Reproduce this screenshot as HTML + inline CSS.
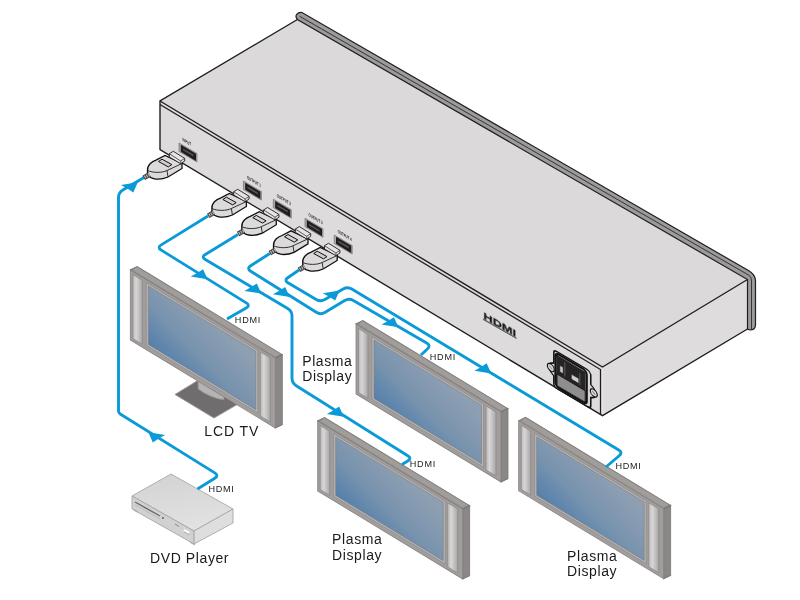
<!DOCTYPE html>
<html><head><meta charset="utf-8"><style>
html,body{margin:0;padding:0;background:#fff;width:800px;height:600px;overflow:hidden}
svg{display:block}
</style></head><body>
<svg width="800" height="600" viewBox="0 0 800 600">
<defs>
<linearGradient id="spk" x1="0" y1="0" x2="1" y2="0"><stop offset="0" stop-color="#b9b7b7"/><stop offset="0.35" stop-color="#d8d6d6"/><stop offset="1" stop-color="#a9a7a7"/></linearGradient>
<linearGradient id="scr" x1="0" y1="1" x2="0.75" y2="0"><stop offset="0" stop-color="#5480ac"/><stop offset="0.45" stop-color="#7893ae"/><stop offset="1" stop-color="#8e9fb2"/></linearGradient>
<linearGradient id="dvdtop" x1="0" y1="0" x2="0.3" y2="1"><stop offset="0" stop-color="#d3d2d2"/><stop offset="1" stop-color="#e2e1e1"/></linearGradient>
</defs>
<rect width="800" height="600" fill="#fff"/>
<polygon points="297.4,19.5 160,101 602.5,367 747.5,279.5" fill="#dbd9da"/>
<polygon points="160,101 602.5,367 602.5,415.7 160,149.5" fill="#dddbdc"/>
<polygon points="602.5,367 747.5,279.5 747.5,329 602.5,415.7" fill="#dedcdd"/>
<path d="M 297.4,19.5 L 160,101 L 160,149.5 L 602.5,415.7 L 747.5,329" fill="none" stroke="#1e1e1e" stroke-width="1.4"/>
<path d="M 160,101 L 602.5,367 L 747.5,279.5" fill="none" stroke="#1e1e1e" stroke-width="1.35"/>
<path d="M 160,104.5 L 600.5,369.5 L 600.5,415" fill="none" stroke="#1e1e1e" stroke-width="1.25"/>
<path d="M 297.4,19.5 C 294,15.5 297.5,12 302,12.5 L 748,270.3 Q 755.5,274.5 755.5,281 L 755.5,325 Q 755.5,330 750,330 L 747.5,329 L 747.5,279.5 Z" fill="#9c9a9a" stroke="#1e1e1e" stroke-width="1.2"/>
<path d="M 299.5,16.2 L 749,275.3 Q 751.5,277 751.5,281 L 751.5,329" fill="none" stroke="#2a2a2a" stroke-width="0.9"/>
<g transform="matrix(1,0.57,0,1,483,311)" style="will-change:transform"><text x="0.5" y="6.8" font-family="Liberation Sans, sans-serif" font-weight="bold" font-size="9.5" textLength="32.5" lengthAdjust="spacingAndGlyphs" fill="#1a1a1a" stroke="#1a1a1a" stroke-width="0.25">HDMI</text><rect x="0" y="7.6" width="33.5" height="1.1" fill="#222"/></g>
<g transform="matrix(1,0.59,0,1,553.8,349.8)"><path d="M 0,3 Q 0,0 3,0 L 33,0 Q 36,0 37,3 L 37,13 L 40,15 Q 45,19.5 40,24 L 37,26 L 37,34 Q 37,37 34,37 L 3,37 Q 0,37 0,34 L 0,26 L -3,24 Q -8,19.5 -3,15 L 0,13 Z" fill="#d6d4d4" stroke="#111" stroke-width="1.5"/><rect x="1.8" y="1.8" width="31" height="33.5" rx="3.5" fill="#d0cece" stroke="#111" stroke-width="2.4"/><rect x="3.2" y="3.4" width="28.2" height="19" fill="#262424"/><rect x="3.2" y="22.4" width="28.2" height="11.5" fill="#8f8d8d" stroke="#111" stroke-width="0.9"/><rect x="6" y="12" width="3.4" height="6.5" fill="#c9c7c7" stroke="#111" stroke-width="0.5"/><rect x="17.5" y="14" width="7.5" height="5" fill="#cfcdcd" stroke="#111" stroke-width="0.5"/><path d="M 11,6 L 11,20 M 26,8 L 26,20" stroke="#555" stroke-width="1.2"/><circle cx="-3" cy="19.5" r="3.5" fill="#d8d6d6" stroke="#111" stroke-width="1.1"/><circle cx="40" cy="19.5" r="3.5" fill="#d8d6d6" stroke="#111" stroke-width="1.1"/><path d="M -4.5,18.5 L -1.5,20.5 M 38.5,18.5 L 41.5,20.5" stroke="#666" stroke-width="0.8"/></g>
<g style="will-change:transform"><g transform="matrix(1,0.6,0,1,182.5,140.8)"><text x="0" y="0" font-family="Liberation Sans, sans-serif" font-size="4.6" font-weight="bold" textLength="8.5" lengthAdjust="spacingAndGlyphs" fill="#2a2a2a">INPUT</text></g>
<g transform="matrix(1,0.6,0,1,246.9,178.8)"><text x="0" y="0" font-family="Liberation Sans, sans-serif" font-size="4.6" font-weight="bold" textLength="14" lengthAdjust="spacingAndGlyphs" fill="#2a2a2a">OUTPUT 1</text></g>
<g transform="matrix(1,0.6,0,1,276.8,197.0)"><text x="0" y="0" font-family="Liberation Sans, sans-serif" font-size="4.6" font-weight="bold" textLength="14" lengthAdjust="spacingAndGlyphs" fill="#2a2a2a">OUTPUT 2</text></g>
<g transform="matrix(1,0.6,0,1,308.5,216.10000000000002)"><text x="0" y="0" font-family="Liberation Sans, sans-serif" font-size="4.6" font-weight="bold" textLength="14" lengthAdjust="spacingAndGlyphs" fill="#2a2a2a">OUTPUT 3</text></g>
<g transform="matrix(1,0.6,0,1,337.7,232.8)"><text x="0" y="0" font-family="Liberation Sans, sans-serif" font-size="4.6" font-weight="bold" textLength="14" lengthAdjust="spacingAndGlyphs" fill="#2a2a2a">OUTPUT 4</text></g></g>
<polygon points="175,394.5 197,381 238,404 214,418" fill="#6f6d6d" stroke="#9a9898" stroke-width="1"/><path d="M 198,380 L 198,389 Q 210,398 224,400 L 224,392" fill="#b5b3b3" stroke="#8a8888" stroke-width="0.8"/>
<g transform="matrix(1,0.607,0,1,130.3,270)">
<polygon points="0,0 145,0 152,-7.749 7,-7.749" fill="#93908e" stroke="#7a7776" stroke-width="0.8"/>
<polygon points="3,-1.5 145,-1.5 150,-6.749 6,-6.749" fill="#a09d9b"/>
<polygon points="145,0 152,-7.749 152,62.251 145,70" fill="#8a8786" stroke="#7a7776" stroke-width="0.8"/>
<rect x="0" y="0" width="145" height="70" fill="#a09d9c" stroke="#858281" stroke-width="0.8"/>
<rect x="2.5" y="3" width="9.5" height="64" fill="url(#spk)" stroke="#8a8888" stroke-width="0.6"/>
<rect x="130" y="3" width="10" height="64" fill="url(#spk)" stroke="#8a8888" stroke-width="0.6"/>
<rect x="16" y="3" width="111.5" height="62.5" fill="#b9b7b7" stroke="#8a8888" stroke-width="0.6"/>
<rect x="18" y="5" width="107.5" height="58.5" fill="url(#scr)" stroke="#7a7878" stroke-width="0.5"/>
</g>
<g transform="matrix(1,0.607,0,1,317.7,421)">
<polygon points="0,0 145,0 152,-7.749 7,-7.749" fill="#93908e" stroke="#7a7776" stroke-width="0.8"/>
<polygon points="3,-1.5 145,-1.5 150,-6.749 6,-6.749" fill="#a09d9b"/>
<polygon points="145,0 152,-7.749 152,62.251 145,70" fill="#8a8786" stroke="#7a7776" stroke-width="0.8"/>
<rect x="0" y="0" width="145" height="70" fill="#a09d9c" stroke="#858281" stroke-width="0.8"/>
<rect x="2.5" y="3" width="9.5" height="64" fill="url(#spk)" stroke="#8a8888" stroke-width="0.6"/>
<rect x="130" y="3" width="10" height="64" fill="url(#spk)" stroke="#8a8888" stroke-width="0.6"/>
<rect x="16" y="3" width="111.5" height="62.5" fill="#b9b7b7" stroke="#8a8888" stroke-width="0.6"/>
<rect x="18" y="5" width="107.5" height="58.5" fill="url(#scr)" stroke="#7a7878" stroke-width="0.5"/>
</g>
<g transform="matrix(1,0.607,0,1,356,324)">
<polygon points="0,0 145,0 152,-7.749 7,-7.749" fill="#93908e" stroke="#7a7776" stroke-width="0.8"/>
<polygon points="3,-1.5 145,-1.5 150,-6.749 6,-6.749" fill="#a09d9b"/>
<polygon points="145,0 152,-7.749 152,62.251 145,70" fill="#8a8786" stroke="#7a7776" stroke-width="0.8"/>
<rect x="0" y="0" width="145" height="70" fill="#a09d9c" stroke="#858281" stroke-width="0.8"/>
<rect x="2.5" y="3" width="9.5" height="64" fill="url(#spk)" stroke="#8a8888" stroke-width="0.6"/>
<rect x="130" y="3" width="10" height="64" fill="url(#spk)" stroke="#8a8888" stroke-width="0.6"/>
<rect x="16" y="3" width="111.5" height="62.5" fill="#b9b7b7" stroke="#8a8888" stroke-width="0.6"/>
<rect x="18" y="5" width="107.5" height="58.5" fill="url(#scr)" stroke="#7a7878" stroke-width="0.5"/>
</g>
<g transform="matrix(1,0.607,0,1,518.7,420.8)">
<polygon points="0,0 145,0 152,-7.749 7,-7.749" fill="#93908e" stroke="#7a7776" stroke-width="0.8"/>
<polygon points="3,-1.5 145,-1.5 150,-6.749 6,-6.749" fill="#a09d9b"/>
<polygon points="145,0 152,-7.749 152,62.251 145,70" fill="#8a8786" stroke="#7a7776" stroke-width="0.8"/>
<rect x="0" y="0" width="145" height="70" fill="#a09d9c" stroke="#858281" stroke-width="0.8"/>
<rect x="2.5" y="3" width="9.5" height="64" fill="url(#spk)" stroke="#8a8888" stroke-width="0.6"/>
<rect x="130" y="3" width="10" height="64" fill="url(#spk)" stroke="#8a8888" stroke-width="0.6"/>
<rect x="16" y="3" width="111.5" height="62.5" fill="#b9b7b7" stroke="#8a8888" stroke-width="0.6"/>
<rect x="18" y="5" width="107.5" height="58.5" fill="url(#scr)" stroke="#7a7878" stroke-width="0.5"/>
</g>
<polygon points="132,496 171,474 233,509 194,531" fill="url(#dvdtop)" stroke="#a8a6a6" stroke-width="0.9"/><polygon points="132,496 194,531 194,544 132,509" fill="#d2d1d1" stroke="#a8a6a6" stroke-width="0.9"/><polygon points="194,531 233,509 233,523 194,544" fill="#dfdede" stroke="#a8a6a6" stroke-width="0.9"/><path d="M 194,532 L 194,543.5" stroke="#bdbbbb" stroke-width="1.6"/><path d="M 135,502 L 160,516" stroke="#6a6868" stroke-width="1.4"/><path d="M 135,505 L 160,519" stroke="#b8b6b6" stroke-width="0.8"/><circle cx="163" cy="518" r="0.9" fill="#555"/><path d="M 175,524 L 179,526.5" stroke="#888" stroke-width="1"/><path d="M 184,530 L 189,533" stroke="#fff" stroke-width="2.2"/><path d="M 184,530 L 189,533" stroke="#777" stroke-width="0.5" transform="translate(0,1.6)"/><polygon points="134,509 138,511.5 138,513 134,510.5" fill="#aaa"/><polygon points="190,541.5 195,544.3 195,545.5 190,542.8" fill="#aaa"/>
<path d="M 197.5,489 L 214.77,478.16 Q 219,475.5 214.75,472.86 L 120.20,414.06 Q 118.5,413 118.50,411.00 L 118.50,411.00 Q 118.5,409 118.50,407.00 L 118.50,197.50 Q 118.5,192.5 122.81,189.96 L 144,177.5" fill="none" stroke="#0b9ad8" stroke-width="2.9" stroke-linejoin="round"/>
<path d="M 208,216 L 161.25,244.87 Q 157,247.5 161.25,250.14 L 246.25,302.86 Q 250.5,305.5 246.16,307.99 L 227,319" fill="none" stroke="#0b9ad8" stroke-width="2.9" stroke-linejoin="round"/>
<path d="M 238,234.5 L 205.27,254.40 Q 201,257 205.30,259.55 L 287.70,308.45 Q 292,311 292.00,316.00 L 292.00,378.00 Q 292,383 296.23,385.66 L 407.77,455.84 Q 412,458.5 407.71,461.07 L 402,464.5" fill="none" stroke="#0b9ad8" stroke-width="2.9" stroke-linejoin="round"/>
<path d="M 269.8,253.5 L 250.70,265.79 Q 246.5,268.5 250.73,271.16 L 316.27,312.34 Q 320.5,315 324.79,312.44 L 344.71,300.56 Q 349,298 353.33,300.51 L 426.67,342.99 Q 431,345.5 427.38,348.94 L 421,355" fill="none" stroke="#0b9ad8" stroke-width="2.9" stroke-linejoin="round"/>
<path d="M 299,270 L 287.03,278.29 Q 286,279 286.00,280.25 L 286.00,280.25 Q 286,281.5 287.07,282.14 L 316.20,299.45 Q 320.5,302 324.84,299.51 L 343.16,288.99 Q 347.5,286.5 351.78,289.08 L 618.72,449.92 Q 623,452.5 619.20,455.74 L 606,467" fill="none" stroke="#0b9ad8" stroke-width="2.9" stroke-linejoin="round"/>
<polygon points="148.29,432.32 165.17,435.05 158.74,438.60 152.83,442.45" fill="#0b9ad8"/>
<polygon points="137.81,182.32 133.27,192.45 127.36,188.60 120.93,185.05" fill="#0b9ad8"/>
<polygon points="207.61,279.32 203.07,269.20 197.16,273.05 190.73,276.60" fill="#0b9ad8"/>
<polygon points="261.31,293.62 256.77,283.50 250.86,287.35 244.43,290.90" fill="#0b9ad8"/>
<polygon points="289.71,297.03 285.17,286.90 279.26,290.75 272.83,294.30" fill="#0b9ad8"/>
<polygon points="343.71,416.68 339.17,406.55 333.26,410.40 326.83,413.95" fill="#0b9ad8"/>
<polygon points="339.71,290.47 335.17,300.60 329.26,296.75 322.83,293.20" fill="#0b9ad8"/>
<polygon points="398.46,327.32 393.92,317.20 388.01,321.05 381.58,324.60" fill="#0b9ad8"/>
<polygon points="491.21,373.43 486.67,363.30 480.76,367.15 474.33,370.70" fill="#0b9ad8"/>
<g transform="translate(179,143)">
<polygon points="0,0 18,10.5 18,19 0,8.5" fill="#aaa8a8" stroke="#666" stroke-width="0.6"/>
<polygon points="1.8,1.8 17,10.8 17,18 1.8,8.8" fill="#1f1d1d"/>
<polygon points="4,5.5 14.5,11.6 14.5,13.4 4,7.3" fill="#555353"/>
<path d="M -31.5,27.5 C -32,22 -27,18.5 -23,17.2 L -14,12.5 L 3,20.5 L 3,25.5 L -11,34 C -19,37.5 -29,37 -31.5,31 Z" fill="#dcdada" stroke="#111" stroke-width="1.3"/>
<path d="M -31.5,27.5 C -26,30 -17,30 -12,27.5 L 3,20.5" fill="none" stroke="#1e1e1e" stroke-width="0.9"/>
<path d="M -12,27.5 L -11,34" fill="none" stroke="#1e1e1e" stroke-width="0.9"/>
<polygon points="-20.5,18.5 -17,16.2 -7.2,21.6 -10.7,23.9" fill="#d0cece" stroke="#111" stroke-width="1"/>
<polygon points="-9.7,10.7 -5.7,8.3 5.7,15.3 5.7,18 1.7,20.7 -9.7,14" fill="#e6e4e4" stroke="#1e1e1e" stroke-width="0.9"/>
<path d="M -9.7,10.7 L 1.7,18 L 5.7,15.3 M 1.7,18 L 1.7,20.7" fill="none" stroke="#1e1e1e" stroke-width="0.7"/>
<path d="M -29.5,31.5 L -35.2,34.8" stroke="#3a3a3a" stroke-width="5"/>
<path d="M -29.5,31.5 L -35.2,34.8" stroke="#b5b3b3" stroke-width="3.2" stroke-dasharray="1.3,0.9"/>
</g>
<g transform="translate(243.4,181)">
<polygon points="0,0 18,10.5 18,19 0,8.5" fill="#aaa8a8" stroke="#666" stroke-width="0.6"/>
<polygon points="1.8,1.8 17,10.8 17,18 1.8,8.8" fill="#1f1d1d"/>
<polygon points="4,5.5 14.5,11.6 14.5,13.4 4,7.3" fill="#555353"/>
<path d="M -31.5,27.5 C -32,22 -27,18.5 -23,17.2 L -14,12.5 L 3,20.5 L 3,25.5 L -11,34 C -19,37.5 -29,37 -31.5,31 Z" fill="#dcdada" stroke="#111" stroke-width="1.3"/>
<path d="M -31.5,27.5 C -26,30 -17,30 -12,27.5 L 3,20.5" fill="none" stroke="#1e1e1e" stroke-width="0.9"/>
<path d="M -12,27.5 L -11,34" fill="none" stroke="#1e1e1e" stroke-width="0.9"/>
<polygon points="-20.5,18.5 -17,16.2 -7.2,21.6 -10.7,23.9" fill="#d0cece" stroke="#111" stroke-width="1"/>
<polygon points="-9.7,10.7 -5.7,8.3 5.7,15.3 5.7,18 1.7,20.7 -9.7,14" fill="#e6e4e4" stroke="#1e1e1e" stroke-width="0.9"/>
<path d="M -9.7,10.7 L 1.7,18 L 5.7,15.3 M 1.7,18 L 1.7,20.7" fill="none" stroke="#1e1e1e" stroke-width="0.7"/>
<path d="M -29.5,31.5 L -35.2,34.8" stroke="#3a3a3a" stroke-width="5"/>
<path d="M -29.5,31.5 L -35.2,34.8" stroke="#b5b3b3" stroke-width="3.2" stroke-dasharray="1.3,0.9"/>
</g>
<g transform="translate(273.3,199.2)">
<polygon points="0,0 18,10.5 18,19 0,8.5" fill="#aaa8a8" stroke="#666" stroke-width="0.6"/>
<polygon points="1.8,1.8 17,10.8 17,18 1.8,8.8" fill="#1f1d1d"/>
<polygon points="4,5.5 14.5,11.6 14.5,13.4 4,7.3" fill="#555353"/>
<path d="M -31.5,27.5 C -32,22 -27,18.5 -23,17.2 L -14,12.5 L 3,20.5 L 3,25.5 L -11,34 C -19,37.5 -29,37 -31.5,31 Z" fill="#dcdada" stroke="#111" stroke-width="1.3"/>
<path d="M -31.5,27.5 C -26,30 -17,30 -12,27.5 L 3,20.5" fill="none" stroke="#1e1e1e" stroke-width="0.9"/>
<path d="M -12,27.5 L -11,34" fill="none" stroke="#1e1e1e" stroke-width="0.9"/>
<polygon points="-20.5,18.5 -17,16.2 -7.2,21.6 -10.7,23.9" fill="#d0cece" stroke="#111" stroke-width="1"/>
<polygon points="-9.7,10.7 -5.7,8.3 5.7,15.3 5.7,18 1.7,20.7 -9.7,14" fill="#e6e4e4" stroke="#1e1e1e" stroke-width="0.9"/>
<path d="M -9.7,10.7 L 1.7,18 L 5.7,15.3 M 1.7,18 L 1.7,20.7" fill="none" stroke="#1e1e1e" stroke-width="0.7"/>
<path d="M -29.5,31.5 L -35.2,34.8" stroke="#3a3a3a" stroke-width="5"/>
<path d="M -29.5,31.5 L -35.2,34.8" stroke="#b5b3b3" stroke-width="3.2" stroke-dasharray="1.3,0.9"/>
</g>
<g transform="translate(305,218.3)">
<polygon points="0,0 18,10.5 18,19 0,8.5" fill="#aaa8a8" stroke="#666" stroke-width="0.6"/>
<polygon points="1.8,1.8 17,10.8 17,18 1.8,8.8" fill="#1f1d1d"/>
<polygon points="4,5.5 14.5,11.6 14.5,13.4 4,7.3" fill="#555353"/>
<path d="M -31.5,27.5 C -32,22 -27,18.5 -23,17.2 L -14,12.5 L 3,20.5 L 3,25.5 L -11,34 C -19,37.5 -29,37 -31.5,31 Z" fill="#dcdada" stroke="#111" stroke-width="1.3"/>
<path d="M -31.5,27.5 C -26,30 -17,30 -12,27.5 L 3,20.5" fill="none" stroke="#1e1e1e" stroke-width="0.9"/>
<path d="M -12,27.5 L -11,34" fill="none" stroke="#1e1e1e" stroke-width="0.9"/>
<polygon points="-20.5,18.5 -17,16.2 -7.2,21.6 -10.7,23.9" fill="#d0cece" stroke="#111" stroke-width="1"/>
<polygon points="-9.7,10.7 -5.7,8.3 5.7,15.3 5.7,18 1.7,20.7 -9.7,14" fill="#e6e4e4" stroke="#1e1e1e" stroke-width="0.9"/>
<path d="M -9.7,10.7 L 1.7,18 L 5.7,15.3 M 1.7,18 L 1.7,20.7" fill="none" stroke="#1e1e1e" stroke-width="0.7"/>
<path d="M -29.5,31.5 L -35.2,34.8" stroke="#3a3a3a" stroke-width="5"/>
<path d="M -29.5,31.5 L -35.2,34.8" stroke="#b5b3b3" stroke-width="3.2" stroke-dasharray="1.3,0.9"/>
</g>
<g transform="translate(334.2,235)">
<polygon points="0,0 18,10.5 18,19 0,8.5" fill="#aaa8a8" stroke="#666" stroke-width="0.6"/>
<polygon points="1.8,1.8 17,10.8 17,18 1.8,8.8" fill="#1f1d1d"/>
<polygon points="4,5.5 14.5,11.6 14.5,13.4 4,7.3" fill="#555353"/>
<path d="M -31.5,27.5 C -32,22 -27,18.5 -23,17.2 L -14,12.5 L 3,20.5 L 3,25.5 L -11,34 C -19,37.5 -29,37 -31.5,31 Z" fill="#dcdada" stroke="#111" stroke-width="1.3"/>
<path d="M -31.5,27.5 C -26,30 -17,30 -12,27.5 L 3,20.5" fill="none" stroke="#1e1e1e" stroke-width="0.9"/>
<path d="M -12,27.5 L -11,34" fill="none" stroke="#1e1e1e" stroke-width="0.9"/>
<polygon points="-20.5,18.5 -17,16.2 -7.2,21.6 -10.7,23.9" fill="#d0cece" stroke="#111" stroke-width="1"/>
<polygon points="-9.7,10.7 -5.7,8.3 5.7,15.3 5.7,18 1.7,20.7 -9.7,14" fill="#e6e4e4" stroke="#1e1e1e" stroke-width="0.9"/>
<path d="M -9.7,10.7 L 1.7,18 L 5.7,15.3 M 1.7,18 L 1.7,20.7" fill="none" stroke="#1e1e1e" stroke-width="0.7"/>
<path d="M -29.5,31.5 L -35.2,34.8" stroke="#3a3a3a" stroke-width="5"/>
<path d="M -29.5,31.5 L -35.2,34.8" stroke="#b5b3b3" stroke-width="3.2" stroke-dasharray="1.3,0.9"/>
</g>
<g style="will-change:transform"><text x="302.2" y="366.4" font-size="14" letter-spacing="0.6" font-family="Liberation Sans, sans-serif" fill="#1a1a1a">Plasma</text>
<text x="302.2" y="381.3" font-size="14" letter-spacing="0.6" font-family="Liberation Sans, sans-serif" fill="#1a1a1a">Display</text>
<text x="332.1" y="543.8" font-size="14" letter-spacing="0.6" font-family="Liberation Sans, sans-serif" fill="#1a1a1a">Plasma</text>
<text x="332.1" y="559.6" font-size="14" letter-spacing="0.6" font-family="Liberation Sans, sans-serif" fill="#1a1a1a">Display</text>
<text x="567.1" y="560.6" font-size="14" letter-spacing="0.6" font-family="Liberation Sans, sans-serif" fill="#1a1a1a">Plasma</text>
<text x="567.1" y="575.9" font-size="14" letter-spacing="0.6" font-family="Liberation Sans, sans-serif" fill="#1a1a1a">Display</text>
<text x="204.3" y="436.4" font-size="14" letter-spacing="0.9" font-family="Liberation Sans, sans-serif" fill="#1a1a1a">LCD TV</text>
<text x="150.0" y="563.1" font-size="14" letter-spacing="0.6" font-family="Liberation Sans, sans-serif" fill="#1a1a1a">DVD Player</text>
<text x="234.85" y="322.9" font-size="9.1" letter-spacing="0.75" font-family="Liberation Sans, sans-serif" fill="#1a1a1a">HDMI</text>
<text x="429.8" y="360.4" font-size="9.1" letter-spacing="0.75" font-family="Liberation Sans, sans-serif" fill="#1a1a1a">HDMI</text>
<text x="409.8" y="467.4" font-size="9.1" letter-spacing="0.75" font-family="Liberation Sans, sans-serif" fill="#1a1a1a">HDMI</text>
<text x="615.4" y="468.8" font-size="9.1" letter-spacing="0.75" font-family="Liberation Sans, sans-serif" fill="#1a1a1a">HDMI</text>
<text x="208.4" y="491.9" font-size="9.1" letter-spacing="0.75" font-family="Liberation Sans, sans-serif" fill="#1a1a1a">HDMI</text></g>
</svg>
</body></html>
